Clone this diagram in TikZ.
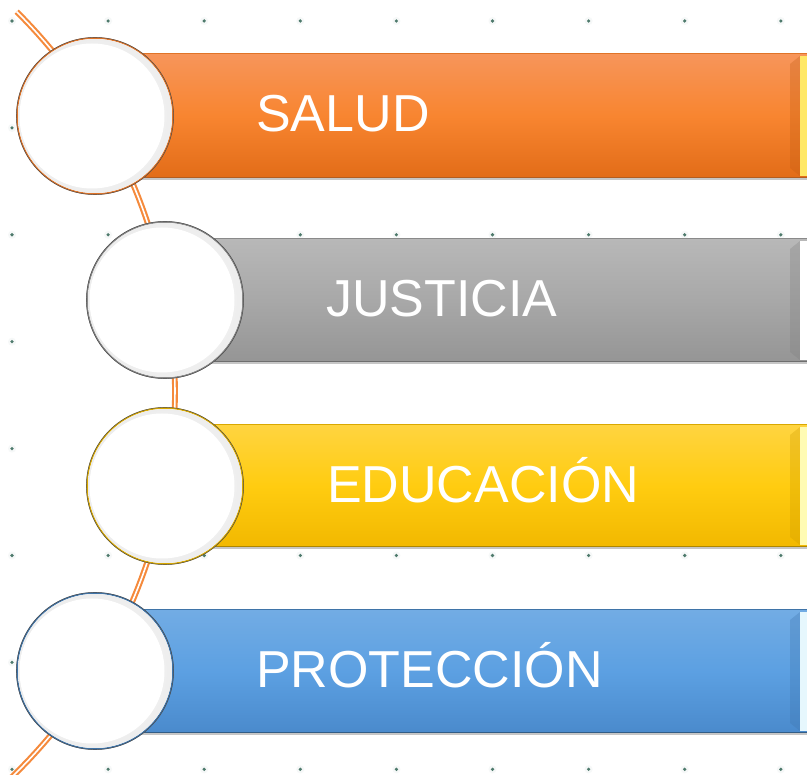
\documentclass[tikz,border=0pt]{standalone}
\usepackage{fontspec}
\setmainfont{Liberation Sans}
\begin{document}
\begin{tikzpicture}[x=1pt,y=-1pt,
  griddot/.style={fill=dotc,draw=none},
  dothalo/.style={fill=dotc!5,draw=none},
  bubble/.style={circle,minimum size=156pt,inner sep=0pt,fill=white,draw=#1,line width=1.6pt},
  lbl/.style={text=white,anchor=base west,inner sep=0pt,font=\fontsize{52}{60}\selectfont},
  link/.style={draw=linkc,double=white,double distance=1.6pt,line width=2.1pt}
]
\definecolor{dotc}{HTML}{4E7A6C}
\definecolor{linkc}{HTML}{F58A3C}
\definecolor{oTop}{HTML}{F7955A}\definecolor{oMid}{HTML}{F88530}\definecolor{oBot}{HTML}{E26C18}
\definecolor{gTop}{HTML}{B8B8B8}\definecolor{gMid}{HTML}{A8A8A8}\definecolor{gBot}{HTML}{959595}
\definecolor{yTop}{HTML}{FFD440}\definecolor{yMid}{HTML}{FFCC10}\definecolor{yBot}{HTML}{F2B800}
\definecolor{bTop}{HTML}{72ACE4}\definecolor{bMid}{HTML}{5CA0E2}\definecolor{bBot}{HTML}{4A8ACC}
\definecolor{oLine}{HTML}{E07428}\definecolor{gLine}{HTML}{8A8A8A}
\definecolor{yLine}{HTML}{D9A800}\definecolor{bLine}{HTML}{3F74A8}
\useasboundingbox (0,0) rectangle (807,775);
\fill[white] (0,0) rectangle (807,775);
% grid of dots
\foreach \i in {0,...,8}{
  \foreach \j in {0,...,7}{
    \fill[dothalo] ({12+96.1*\i},{21+106.9*\j}) circle (4);
    \fill[griddot] ({12+96.1*\i},{21+106.9*\j}) circle (1.8);
  }
}
% connecting arc
\draw[link] plot[domain=-45.2:52,samples=90] ({-361+536*cos(\x)},{392+536*sin(\x)});
% bars
\newcommand{\mybar}[8]{% #1 left, #2 top, #3 bottom, #4 top col, #5 mid col, #6 bot col, #7 light strip, #8 edge
  \fill[gray!45] (#1,#3) rectangle (807,#3+2.5);
  \shade[top color=#4,bottom color=#6,middle color=#5] (#1,#2) rectangle (807,#3);
  \fill[#6!85!black,opacity=0.3] (790,#2+10) -- (800,#2+2) -- (800,#3-2) -- (790,#3-10) -- cycle;
  \fill[#7] (800,#2+2) rectangle (807,#3-2);
  \draw[#8,line width=1pt] (#1,#2) -- (807,#2);
  \draw[#8!80!black,line width=1pt] (#1,#3) -- (807,#3);
}
\mybar{120}{54}{178}{oTop}{oMid}{oBot}{orange!30!yellow!60}{oLine}
\mybar{180}{239}{362}{gTop}{gMid}{gBot}{white}{gLine}
\mybar{180}{425}{547}{yTop}{yMid}{yBot}{yellow!30}{yLine}
\mybar{120}{610}{733}{bTop}{bMid}{bBot}{cyan!10}{bLine}
% circles
\node[bubble=oLine] (c1) at (95,116) {};
\node[bubble=gLine] (c2) at (165,300) {};
\node[bubble=yLine] (c3) at (165,486) {};
\node[bubble=bLine] (c4) at (95,671) {};
\foreach \c in {c1,c2,c3,c4}{
  \shade[inner color=white,outer color=black!7] (\c.center) circle (77);
  \fill[white] ([xshift=-3pt]\c.center) circle (72.5);
  \draw[black!70,line width=0.5pt] (\c.center) circle (78.6);
}
% labels
\node[lbl] (t1) at (256,132) {SALUD};
\node[lbl] (t2) at (326,317) {JUSTICIA};
\node[lbl] (t3) at (327,503) {EDUCACIÓN};
\node[lbl] (t4) at (256,688) {PROTECCIÓN};
\end{tikzpicture}
\end{document}
